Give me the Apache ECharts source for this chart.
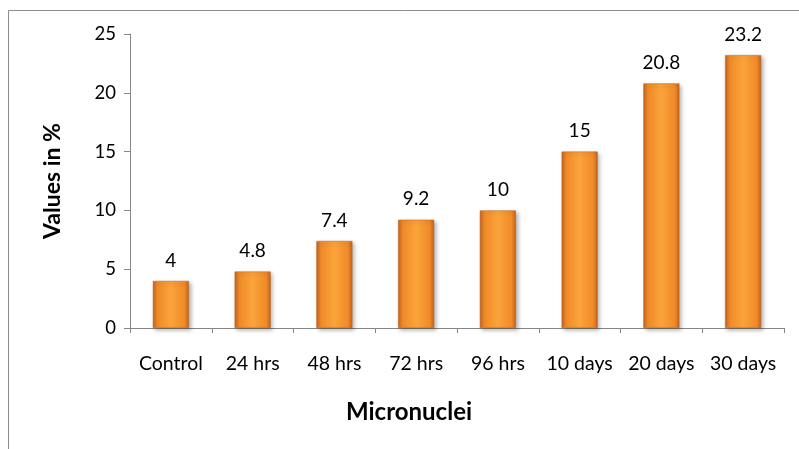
<!DOCTYPE html>
<html>
<head>
<meta charset="utf-8">
<script src="https://cdn.jsdelivr.net/npm/echarts@6/dist/echarts.min.js"></script>
<style>
html,body{margin:0;padding:0;background:#fff;}
#chart{width:799px;height:449px;}
</style>
</head>
<body>
<div id="chart"></div>
<script>
const categories = ['Control', '24 hrs', '48 hrs', '72 hrs', '96 hrs', '10 days', '20 days', '30 days'];
const values = [4, 4.8, 7.4, 9.2, 10, 15, 20.8, 23.2];
const yTicks = [0, 5, 10, 15, 20, 25];
const xTitle = 'Micronuclei';
const yTitle = 'Values in %';

const FONT = 'Lato';
const chart = echarts.init(document.getElementById('chart'), null, {renderer: 'canvas'});
const barColor = new echarts.graphic.LinearGradient(0, 0, 1, 0, [
  {offset: 0, color: '#C5621B'},
  {offset: 0.12, color: '#F08A28'},
  {offset: 0.5, color: '#FBA43A'},
  {offset: 0.88, color: '#F08A28'},
  {offset: 1, color: '#C5621B'}
]);
chart.setOption({
  animation: false,
  backgroundColor: '#fff',
  graphic: [
    {type: 'rect', shape: {x: 8.5, y: 10.5, width: 820, height: 470}, style: {fill: 'none', stroke: '#8c8c8c', lineWidth: 1}, z: -1},
    {type: 'text', x: 409, y: 412, style: {text: xTitle, font: 'bold 24px ' + FONT, fill: '#000', textAlign: 'center', textVerticalAlign: 'middle'}}
  ],
  grid: {left: 130, right: 15, top: 34, bottom: 121, containLabel: false},
  xAxis: {
    type: 'category',
    data: categories,
    axisLine: {lineStyle: {color: '#868686', width: 1}},
    axisTick: {show: true, length: 5, lineStyle: {color: '#868686'}},
    axisLabel: {color: '#000', fontFamily: FONT, fontSize: 19.5, margin: 26, interval: 0}
  },
  yAxis: {
    type: 'value',
    min: yTicks[0],
    max: yTicks[yTicks.length - 1],
    interval: yTicks[1] - yTicks[0],
    name: yTitle,
    nameLocation: 'middle',
    nameGap: 66,
    nameRotate: 90,
    nameTextStyle: {color: '#000', fontFamily: FONT, fontSize: 23, fontWeight: 'bold'},
    axisLine: {show: true, lineStyle: {color: '#868686', width: 1}},
    axisTick: {show: true, length: 6, lineStyle: {color: '#868686'}},
    splitLine: {show: false},
    axisLabel: {color: '#000', fontFamily: FONT, fontSize: 18.5, margin: 14}
  },
  series: [{
    type: 'bar',
    data: values,
    barWidth: '44%',
    itemStyle: {
      color: barColor,
      borderColor: '#B9601E',
      borderWidth: 0.5,
      shadowBlur: 4,
      shadowColor: 'rgba(0,0,0,0.3)',
      shadowOffsetX: 2,
      shadowOffsetY: 2
    },
    label: {show: true, position: 'top', distance: 11, color: '#000', fontFamily: FONT, fontSize: 19}
  }]
});
</script>
</body>
</html>
